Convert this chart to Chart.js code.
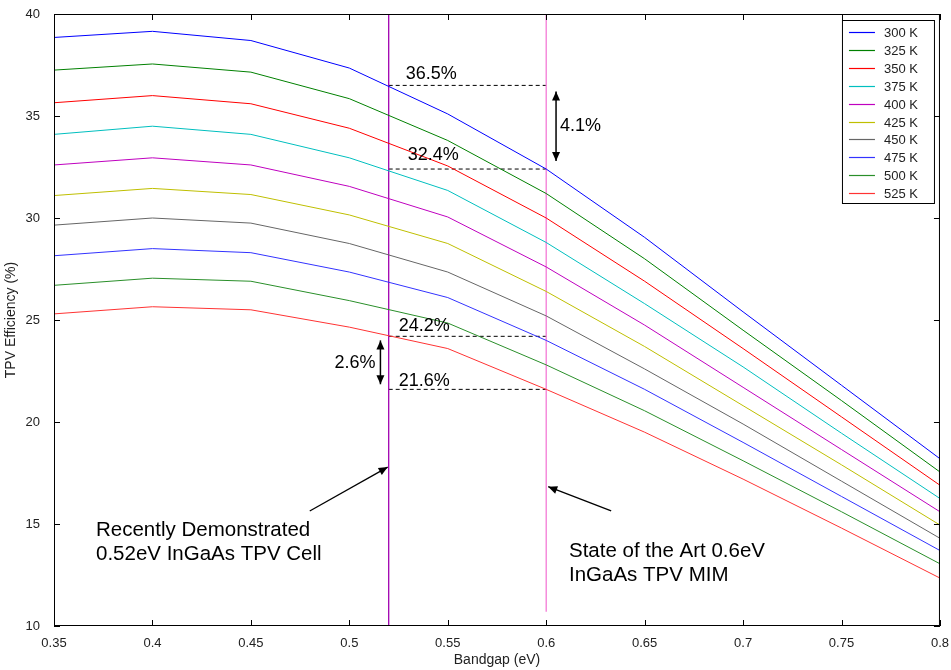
<!DOCTYPE html>
<html>
<head>
<meta charset="utf-8">
<script src="https://cdn.jsdelivr.net/npm/chart.js@4/dist/chart.umd.min.js"></script>
<style>
  html, body { margin: 0; padding: 0; background: #fff; }
  #wrap { width: 951px; height: 670px; }
</style>
</head>
<body>
<div id="wrap"><canvas id="tpv-chart" width="951" height="670"></canvas></div>
<script>
// bandgap grid (eV)
const bandgap = [0.35, 0.4, 0.45, 0.5, 0.55, 0.6, 0.65, 0.7, 0.75, 0.8];

// TPV efficiency (%) per cell temperature
const temps = ["300 K", "325 K", "350 K", "375 K", "400 K", "425 K", "450 K", "475 K", "500 K", "525 K"];
const eff300 = [38.85, 39.15, 38.7, 37.35, 35.1, 32.4, 29.05, 25.4, 21.8, 18.2];
const eff325 = [37.25, 37.55, 37.15, 35.85, 33.8, 31.2, 28.0, 24.5, 21.05, 17.55];
const eff350 = [35.65, 36.0, 35.6, 34.4, 32.55, 30.0, 26.9, 23.6, 20.25, 16.9];
const eff375 = [34.1, 34.5, 34.1, 32.95, 31.35, 28.8, 25.8, 22.7, 19.45, 16.25];
const eff400 = [32.6, 32.95, 32.6, 31.55, 30.05, 27.6, 24.75, 21.7, 18.65, 15.6];
const eff425 = [31.1, 31.45, 31.15, 30.15, 28.75, 26.4, 23.7, 20.8, 17.9, 14.95];
const eff450 = [29.65, 30.0, 29.75, 28.75, 27.35, 25.2, 22.6, 19.9, 17.1, 14.3];
const eff475 = [28.15, 28.5, 28.3, 27.35, 26.1, 24.0, 21.6, 19.0, 16.35, 13.7];
const eff500 = [26.7, 27.05, 26.9, 25.95, 24.85, 22.8, 20.55, 18.1, 15.6, 13.05];
const eff525 = [25.3, 25.65, 25.5, 24.65, 23.6, 21.6, 19.5, 17.2, 14.8, 12.35];
const seriesColors = ["#0000ff", "#008000", "#ff0000", "#00bfbf", "#bf00bf", "#bfbf00", "#666666", "#3333ff", "#2a8f2a", "#ff3333"];

const markerBandgaps = [0.52, 0.6];
const readouts = [36.5, 32.4, 24.2, 21.6];
const gains = ["4.1%", "2.6%"];

const fontFamily = "'Liberation Sans', Arial, sans-serif";
const axisFont = { family: fontFamily, size: 13 };
const titleFont = { family: fontFamily, size: 14 };
const noteFont = "20.5px " + fontFamily;
const pctFont = "18px " + fontFamily;

const allSeries = [eff300, eff325, eff350, eff375, eff400, eff425, eff450, eff475, eff500, eff525];

let datasets = allSeries.map((vals, i) => ({
  label: temps[i],
  data: vals.map((v, j) => ({ x: bandgap[j], y: v })),
  borderColor: seriesColors[i],
  borderWidth: 1,
  pointRadius: 0,
  tension: 0,
  fill: false,
}));

// vertical marker lines
datasets.push({
  label: "_marker052",
  data: [{ x: markerBandgaps[0], y: 10 }, { x: markerBandgaps[0], y: 40 }],
  borderColor: "#a000b0",
  borderWidth: 1.3,
  pointRadius: 0,
});
datasets.push({
  label: "_marker06",
  data: [{ x: markerBandgaps[1], y: 10.7 }, { x: markerBandgaps[1], y: 40 }],
  borderColor: "#f47ad6",
  borderWidth: 1.3,
  pointRadius: 0,
});

// dashed readout lines between the markers
readouts.forEach((v, i) => {
  datasets.push({
    label: "_readout" + i,
    data: [{ x: markerBandgaps[0], y: v }, { x: markerBandgaps[1], y: v }],
    borderColor: "#000",
    borderWidth: 1,
    borderDash: [4, 3],
    pointRadius: 0,
  });
});

function drawArrow(ctx, x1, y1, x2, y2, bothEnds) {
  const head = 9;
  const half = 4;
  ctx.beginPath();
  ctx.moveTo(x1, y1);
  ctx.lineTo(x2, y2);
  ctx.stroke();
  const tip = (tx, ty, fx, fy) => {
    const a = Math.atan2(ty - fy, tx - fx);
    ctx.beginPath();
    ctx.moveTo(tx, ty);
    ctx.lineTo(tx - head * Math.cos(a) + half * Math.sin(a), ty - head * Math.sin(a) - half * Math.cos(a));
    ctx.lineTo(tx - head * Math.cos(a) - half * Math.sin(a), ty - head * Math.sin(a) + half * Math.cos(a));
    ctx.closePath();
    ctx.fill();
  };
  tip(x2, y2, x1, y1);
  if (bothEnds) tip(x1, y1, x2, y2);
}

// MATLAB-style box, inward ticks, legend and the text notes
const matlabFrame = {
  id: "matlabFrame",
  afterDatasetsDraw(chart) {
    const { ctx, chartArea: a, scales } = chart;
    const xs = scales.x, ys = scales.y;
    ctx.save();
    ctx.strokeStyle = "#000";
    ctx.lineWidth = 1;
    ctx.strokeRect(a.left + 0.5, a.top + 0.5, a.right - a.left - 1, a.bottom - a.top - 1);

    const tl = 6;
    ctx.beginPath();
    xs.ticks.forEach((t) => {
      const px = Math.round(xs.getPixelForValue(t.value)) + 0.5;
      ctx.moveTo(px, a.bottom);
      ctx.lineTo(px, a.bottom - tl);
      ctx.moveTo(px, a.top);
      ctx.lineTo(px, a.top + tl);
    });
    ys.ticks.forEach((t) => {
      const py = Math.round(ys.getPixelForValue(t.value)) + 0.5;
      ctx.moveTo(a.left, py);
      ctx.lineTo(a.left + tl, py);
      ctx.moveTo(a.right, py);
      ctx.lineTo(a.right - tl, py);
    });
    ctx.stroke();

    // legend
    const lx = a.right - 98, ly = a.top + 6, lw = 92, lh = 183;
    ctx.fillStyle = "#fff";
    ctx.fillRect(lx, ly, lw, lh);
    ctx.strokeRect(lx + 0.5, ly + 0.5, lw, lh);
    ctx.font = "13px " + fontFamily;
    ctx.textBaseline = "middle";
    ctx.textAlign = "left";
    ctx.lineWidth = 1.2;
    for (let i = 0; i < temps.length; i++) {
      const ry = Math.round(ly + 12 + i * 17.9) + 0.5;
      ctx.strokeStyle = seriesColors[i];
      ctx.beginPath();
      ctx.moveTo(lx + 7, ry);
      ctx.lineTo(lx + 33, ry);
      ctx.stroke();
      ctx.fillStyle = "#222";
      ctx.fillText(temps[i], lx + 42, ry + 1);
    }

    // percentage readouts
    const x0 = xs.getPixelForValue(markerBandgaps[0]);
    ctx.fillStyle = "#000";
    ctx.strokeStyle = "#000";
    ctx.font = pctFont;
    ctx.textBaseline = "alphabetic";
    ctx.fillText(readouts[0].toFixed(1) + "%", x0 + 17, ys.getPixelForValue(readouts[0]) - 6);
    ctx.fillText(readouts[1].toFixed(1) + "%", x0 + 19, ys.getPixelForValue(readouts[1]) - 9);
    ctx.fillText(readouts[2].toFixed(1) + "%", x0 + 10, ys.getPixelForValue(readouts[2]) - 5);
    ctx.fillText(readouts[3].toFixed(1) + "%", x0 + 10, ys.getPixelForValue(readouts[3]) - 3);

    // double arrows with the gains
    ctx.lineWidth = 1.5;
    const ax1 = xs.getPixelForValue(0.605);
    drawArrow(ctx, ax1, ys.getPixelForValue(36.2), ax1, ys.getPixelForValue(32.8), true);
    const ax2 = xs.getPixelForValue(0.5158);
    drawArrow(ctx, ax2, ys.getPixelForValue(24.0), ax2, ys.getPixelForValue(21.85), true);
    ctx.textBaseline = "middle";
    ctx.fillText(gains[0], ax1 + 4, ys.getPixelForValue(34.5));
    ctx.textAlign = "right";
    ctx.fillText(gains[1], ax2 - 5, ys.getPixelForValue(22.9));

    // pointer arrows and captions
    ctx.lineWidth = 1.3;
    drawArrow(ctx, xs.getPixelForValue(0.4799), ys.getPixelForValue(15.64),
      xs.getPixelForValue(markerBandgaps[0]) - 1, ys.getPixelForValue(17.79), false);
    drawArrow(ctx, xs.getPixelForValue(0.633), ys.getPixelForValue(15.64),
      xs.getPixelForValue(markerBandgaps[1]) + 2, ys.getPixelForValue(16.83), false);
    ctx.font = noteFont;
    ctx.textAlign = "left";
    ctx.textBaseline = "alphabetic";
    ctx.fillText("Recently Demonstrated", 96, 536);
    ctx.fillText("0.52eV InGaAs TPV Cell", 96, 560);
    ctx.fillText("State of the Art 0.6eV", 569, 557);
    ctx.fillText("InGaAs TPV MIM", 569, 581);
    ctx.restore();
  },
};

const ctx = document.getElementById("tpv-chart");
new Chart(ctx, {
  type: "line",
  data: { datasets: datasets },
  options: {
    responsive: false,
    animation: false,
    layout: { padding: { top: 14, right: 10, left: 0, bottom: 0 } },
    plugins: {
      legend: { display: false },
      tooltip: { enabled: false },
    },
    scales: {
      x: {
        type: "linear",
        min: 0.35,
        max: 0.8,
        grid: { display: false },
        border: { display: false },
        ticks: {
          stepSize: 0.05,
          autoSkip: false,
          maxRotation: 0,
          padding: 2,
          color: "#222",
          font: axisFont,
          callback: (v) => String(parseFloat(v.toFixed(2))),
        },
        title: {
          display: true,
          text: "Bandgap (eV)",
          color: "#222",
          font: titleFont,
          padding: { top: 0, bottom: 1 },
        },
        afterFit: (s) => { s.height = 44; },
      },
      y: {
        min: 10,
        max: 40,
        grid: { display: false },
        border: { display: false },
        ticks: {
          stepSize: 5,
          padding: 6,
          color: "#222",
          font: axisFont,
        },
        title: {
          display: true,
          text: "TPV Efficiency (%)",
          color: "#222",
          font: titleFont,
          padding: { top: 3, bottom: 0 },
        },
        afterFit: (s) => { s.width = 54; },
      },
    },
  },
  plugins: [matlabFrame],
});
</script>
</body>
</html>
